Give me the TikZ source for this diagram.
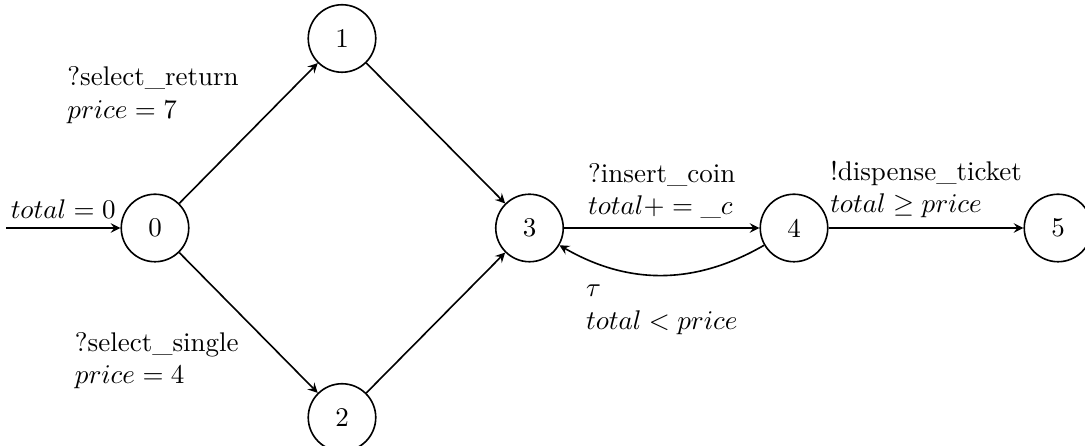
\documentclass[tikz,border=0pt]{standalone}
\usetikzlibrary{arrows}
\tikzset{
  st/.style={circle, draw, semithick, minimum size=25pt, inner sep=0pt},
  lbl/.style={align=left},
  tr/.style={->, >=stealth, semithick},
}
\begin{document}
\begin{tikzpicture}[x=0.3704pt, y=0.3704pt]
\useasboundingbox (0,0) rectangle (1085,446);
\node[st] (n0) at (155,218) {0};
\node[st] (n1) at (342,407.5) {1};
\node[st] (n2) at (342,28.5) {2};
\node[st] (n3) at (529.5,218) {3};
\node[st] (n4) at (794,218) {4};
\node[st] (n5) at (1058,218) {5};
\coordinate (start) at (6,218);
\draw[tr] (start) -- node[above] {$total=0$} (n0);
\draw[tr] (n0) -- node[above left, lbl] {?select\_return\\$price=7$} (n1);
\draw[tr] (n0) -- node[below left, lbl] {?select\_single\\$price=4$} (n2);
\draw[tr] (n1) -- (n3);
\draw[tr] (n2) -- (n3);
\draw[tr] (n3) -- node[above, lbl] {?insert\_coin\\$total+=\_c$} (n4);
\draw[tr] (n4) -- node[above, lbl] {!dispense\_ticket\\$total\geq price$} (n5);
\draw[tr] (n4) to[bend left] node[below, lbl] {$\tau$\\$total<price$} (n3);
\end{tikzpicture}
\end{document}
